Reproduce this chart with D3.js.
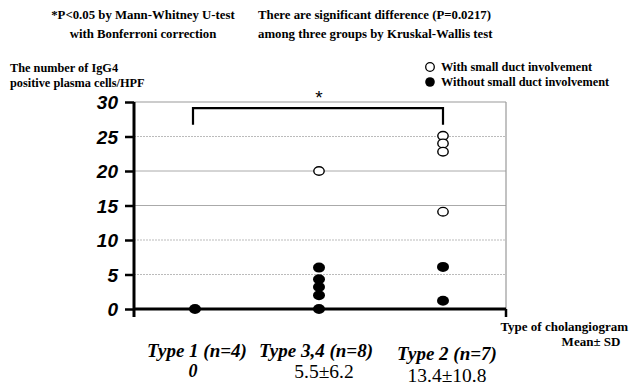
<!DOCTYPE html>
<html><head><meta charset="utf-8">
<script src="https://cdn.jsdelivr.net/npm/d3@7/dist/d3.min.js"></script>
<style>body{margin:0;background:#fff}svg{display:block}</style>
</head><body>
<svg id="c" width="630" height="387"></svg>
<script>
const categories = ["Type 1 (n=4)", "Type 3,4 (n=8)", "Type 2 (n=7)"];
const meanSD = ["0", "5.5±6.2", "13.4±10.8"];
const openType1 = [];
const openType34 = [20];
const openType2 = [25.1, 24.0, 22.8, 14.1];
const filledType1 = [0];
const filledType34 = [6, 4.3, 3.2, 2, 0];
const filledType2 = [6.1, 1.2];
const yTicks = [0, 5, 10, 15, 20, 25, 30];
const dottedGrid = [5, 10, 25];
const solidGrid = [15, 20];

const SERIF = '"Liberation Serif", "Times New Roman", serif';
const SANS = '"Liberation Sans", Arial, sans-serif';
const svg = d3.select("#c");
const pLeft = 134, pRight = 506, pTop = 102, pBottom = 309;
const x = d3.scalePoint().domain(categories).range([195, 443]);
const y = d3.scaleLinear().domain([0, 30]).range([pBottom, pTop]);

// grid
svg.selectAll(".gd").data(dottedGrid).join("line")
  .attr("x1", pLeft).attr("x2", pRight).attr("y1", d => y(d)).attr("y2", d => y(d))
  .attr("stroke", "#bbb").attr("stroke-width", 1).attr("stroke-dasharray", "2,1");
svg.selectAll(".gs").data(solidGrid).join("line")
  .attr("x1", pLeft).attr("x2", pRight).attr("y1", d => y(d)).attr("y2", d => y(d))
  .attr("stroke", "#aaa").attr("stroke-width", 1);
// top & right border
svg.append("line").attr("x1", pLeft).attr("x2", pRight).attr("y1", y(30)).attr("y2", y(30)).attr("stroke", "#999").attr("stroke-width", 1.2);
svg.append("line").attr("x1", pRight).attr("x2", pRight).attr("y1", y(30)).attr("y2", y(0)).attr("stroke", "#999").attr("stroke-width", 1.2);

// y axis
const yAxis = d3.axisLeft(y).tickValues(yTicks).tickSize(9).tickPadding(7).tickFormat(d3.format("d"));
const ga = svg.append("g").attr("transform", `translate(${pLeft},0)`).call(yAxis);
ga.select(".domain").remove();
ga.selectAll(".tick line").attr("stroke", "#000").attr("stroke-width", 2.5);
ga.selectAll(".tick text").style("font-family", SANS).style("font-weight", "bold").style("font-style", "italic")
  .style("font-size", "19px").attr("fill", "#000").attr("dy", "0.36em");
svg.append("line").attr("x1", pLeft).attr("x2", pLeft).attr("y1", y(30)).attr("y2", y(0) + 8).attr("stroke", "#000").attr("stroke-width", 3);
// x axis
svg.append("line").attr("x1", pLeft).attr("x2", pRight).attr("y1", y(0)).attr("y2", y(0)).attr("stroke", "#000").attr("stroke-width", 3);
svg.append("line").attr("x1", pRight).attr("x2", pRight).attr("y1", y(0)).attr("y2", y(0) + 8).attr("stroke", "#000").attr("stroke-width", 2.5);

// bracket
const bx1 = x(categories[0]) - 2, bx2 = x(categories[2]);
svg.append("path").attr("d", `M${bx1},${y(26.7)}V${y(29.1)}H${bx2}V${y(26.7)}`)
  .attr("fill", "none").attr("stroke", "#000").attr("stroke-width", 2.2);
svg.append("text").attr("x", (bx1 + bx2) / 2 + 1).attr("y", 104).attr("text-anchor", "middle")
  .style("font-family", SANS).style("font-size", "19px").text("*");

// points
const filled = [filledType1, filledType34, filledType2];
const opened = [openType1, openType34, openType2];
categories.forEach((c, i) => {
  svg.selectAll(null).data(filled[i]).join("ellipse")
    .attr("cx", x(c)).attr("cy", d => y(d)).attr("rx", 6).attr("ry", 5).attr("fill", "#000");
  svg.selectAll(null).data(opened[i]).join("ellipse")
    .attr("cx", x(c)).attr("cy", d => y(d)).attr("rx", 5.2).attr("ry", 4.3)
    .attr("fill", "#fff").attr("stroke", "#000").attr("stroke-width", 1.4);
});

// category labels
const labDx = [2, -3, 4], labY = [357, 357, 360];
svg.selectAll(".cl").data(categories).join("text")
  .attr("x", (d, i) => x(d) + labDx[i]).attr("y", (d, i) => labY[i]).attr("text-anchor", "middle")
  .style("font-family", SERIF).style("font-style", "italic").style("font-weight", "bold").style("font-size", "19px")
  .text(d => d);
const mDx = [-2, 5, 4], mY = [377, 378, 382];
svg.selectAll(".ml").data(meanSD).join("text")
  .attr("x", (d, i) => x(categories[i]) + mDx[i]).attr("y", (d, i) => mY[i]).attr("text-anchor", "middle")
  .style("font-family", SERIF)
  .style("font-style", (d, i) => i === 0 ? "italic" : "normal")
  .style("font-weight", (d, i) => i === 0 ? "bold" : "normal")
  .style("font-size", (d, i) => i === 0 ? "18px" : "19.5px")
  .text(d => d);

// texts
function txt(s, xx, yy, anchor, size) {
  svg.append("text").attr("x", xx).attr("y", yy).attr("text-anchor", anchor)
    .style("font-family", SERIF).style("font-weight", "bold").style("font-size", size + "px").text(s);
}
txt("*P<0.05 by Mann-Whitney U-test", 143, 19, "middle", 12.8);
txt("with Bonferroni correction", 143, 38, "middle", 12.8);
txt("There are significant difference (P=0.0217)", 258, 19, "start", 12.8);
txt("among three groups by Kruskal-Wallis test", 258, 38, "start", 12.8);
txt("The number of IgG4", 10, 72, "start", 12.3);
txt("positive plasma cells/HPF", 10, 87, "start", 12.3);
txt("Type of cholangiogram", 628, 331, "end", 13);
txt("Mean± SD", 591, 346, "middle", 13);

// legend
svg.append("circle").attr("cx", 430).attr("cy", 67).attr("r", 4.3).attr("fill", "#fff").attr("stroke", "#000").attr("stroke-width", 1.3);
svg.append("circle").attr("cx", 430).attr("cy", 82).attr("r", 4.8).attr("fill", "#000");
txt("With small duct involvement", 441, 71, "start", 12.3);
txt("Without small duct involvement", 441, 86, "start", 12.3);
</script>
</body></html>
